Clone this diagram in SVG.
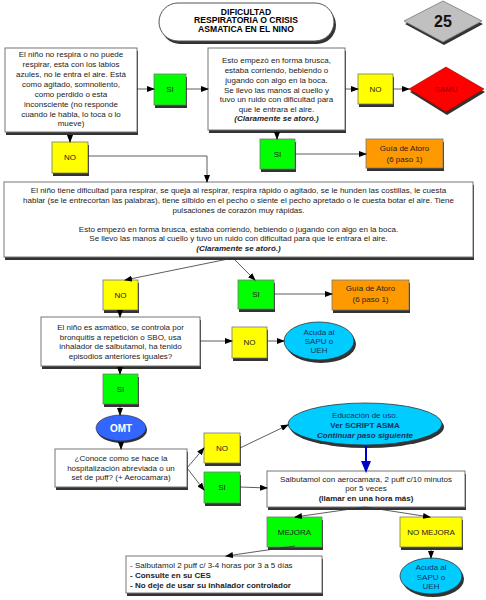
<svg xmlns="http://www.w3.org/2000/svg" width="486" height="600" viewBox="0 0 486 600">
<defs>
<marker id="ah" markerWidth="8" markerHeight="6" refX="7" refY="3" orient="auto" markerUnits="userSpaceOnUse">
<path d="M0,0 L8,3 L0,6 Z" fill="#000"/>
</marker>
<marker id="ahb" markerWidth="12" markerHeight="10" refX="10" refY="5" orient="auto" markerUnits="userSpaceOnUse">
<path d="M0,0 L12,5 L0,10 Z" fill="#0000cc"/>
</marker>
<style>
text{font-family:"Liberation Sans",Arial,sans-serif;font-size:8px;fill:#222;text-anchor:middle}
.b{font-weight:bold}
.bi{font-weight:bold;font-style:italic}
.t{font-weight:bold;font-size:8.6px;fill:#000}
.sh{fill:#333}
.box{fill:#fff;stroke:#777;stroke-width:1}
.g{fill:#00ff00;stroke:#777;stroke-width:0.8}
.y{fill:#ffff00;stroke:#777;stroke-width:0.8}
.o{fill:#ff9900;stroke:#777;stroke-width:0.8}
.c{fill:#00ccff;stroke:#333;stroke-width:0.8}
.el text{fill:#1a3060}
.conn line,.conn polyline{stroke:#333;stroke-width:0.8;fill:none;marker-end:url(#ah)}
</style>
</defs>
<rect width="486" height="600" fill="#fff"/>

<g id="title">
<rect x="161" y="6" width="175" height="38" rx="19" class="sh"/>
<rect x="159" y="3" width="175" height="38" rx="19" fill="#fff" stroke="#555" stroke-width="1"/>
<text x="246" y="14.5" class="t">DIFICULTAD</text>
<text x="246" y="23" class="t">RESPIRATORIA O CRISIS</text>
<text x="246" y="31.5" class="t">ASMATICA EN EL NINO</text>
</g>

<g id="page25">
<polygon points="444,4 483,24 444,45 405,24" class="sh"/>
<polygon points="443,1 482,21 443,42 404,21" fill="#c0c0c0" stroke="#777" stroke-width="0.8"/>
<text x="443" y="27" class="b" style="font-size:16px;fill:#111">25</text>
</g>

<g id="box1">
<rect x="6" y="51" width="132" height="84" class="sh"/>
<rect x="5" y="48" width="132" height="84" class="box"/>
<text x="71" y="57">El niño no respira o no puede</text>
<text x="71" y="67">respirar, esta con los labios</text>
<text x="71" y="77">azules, no le entra el aire. Está</text>
<text x="71" y="87">como agitado, somnoliento,</text>
<text x="71" y="96.5">como perdido o esta</text>
<text x="71" y="106.5">inconsciente (no responde</text>
<text x="71" y="116.5">cuando le habla, lo toca o lo</text>
<text x="71" y="126">mueve)</text>
</g>

<g id="si1">
<rect x="155" y="77" width="32" height="31" class="sh"/>
<rect x="154" y="74" width="32" height="31" class="g"/>
<text x="170" y="92">SI</text>
</g>

<g id="box2">
<rect x="209" y="51" width="137" height="82" class="sh"/>
<rect x="208" y="48" width="137" height="82" class="box"/>
<text x="276.5" y="63">Esto empezó en forma brusca,</text>
<text x="276.5" y="73">estaba corriendo, bebiendo o</text>
<text x="276.5" y="83">jugando con algo en la boca.</text>
<text x="276.5" y="92.5">Se llevo las manos al cuello y</text>
<text x="276.5" y="102">tuvo un ruido con dificultad para</text>
<text x="276.5" y="111.5">que le entrara el aire.</text>
<text x="276.5" y="121" class="bi">(Claramente se atoró.)</text>
</g>

<g id="no1">
<rect x="359" y="77" width="35" height="30" class="sh"/>
<rect x="358" y="74" width="35" height="30" class="y"/>
<text x="375.5" y="92">NO</text>
</g>

<g id="samu">
<polygon points="447,70 485,92 447,115 410,92" class="sh"/>
<polygon points="446,67 484,89 446,112 409,89" fill="#ff0000" stroke="#900" stroke-width="0.6"/>
<text x="446" y="92" style="fill:#9a0000">SAMU</text>
</g>

<g id="si2">
<rect x="261" y="142" width="35" height="30" class="sh"/>
<rect x="260" y="139" width="35" height="30" class="g"/>
<text x="277.5" y="157">SI</text>
</g>

<g id="atoro1">
<rect x="367" y="142" width="77" height="29" class="sh"/>
<rect x="366" y="139" width="77" height="29" class="o"/>
<text x="404.5" y="151">Guía de Atoro</text>
<text x="404.5" y="162">(6 paso 1)</text>
</g>

<g id="no2">
<rect x="53" y="145" width="36" height="31" class="sh"/>
<rect x="52" y="142" width="36" height="31" class="y"/>
<text x="70" y="160">NO</text>
</g>

<g id="bigbox">
<rect x="5" y="185" width="469" height="75" class="sh"/>
<rect x="4" y="182" width="469" height="75" class="box"/>
<text x="238.5" y="193">El niño tiene dificultad para respirar, se queja al respirar, respira rápido o agitado, se le hunden las costillas, le cuesta</text>
<text x="238.5" y="203">hablar (se le entrecortan las palabras), tiene silbido en el pecho o siente el pecho apretado o le cuesta botar el aire. Tiene</text>
<text x="238.5" y="212.5">pulsaciones de corazón muy rápidas.</text>
<text x="238.5" y="231.5">Esto empezó en forma brusca, estaba corriendo, bebiendo o jugando con algo en la boca.</text>
<text x="238.5" y="241">Se llevo las manos al cuello y tuvo un ruido con dificultad para que le entrara el aire.</text>
<text x="238.5" y="250.5" class="bi">(Claramente se atoró.)</text>
</g>

<g id="no3">
<rect x="104" y="283" width="35" height="30" class="sh"/>
<rect x="103" y="280" width="35" height="30" class="y"/>
<text x="120.5" y="298">NO</text>
</g>

<g id="si3">
<rect x="239" y="283" width="36" height="29" class="sh"/>
<rect x="238" y="280" width="36" height="29" class="g"/>
<text x="256" y="297">SI</text>
</g>

<g id="atoro2">
<rect x="333" y="283" width="77" height="30" class="sh"/>
<rect x="332" y="280" width="77" height="30" class="o"/>
<text x="370.5" y="291">Guía de Atoro</text>
<text x="370.5" y="301.5">(6 paso 1)</text>
</g>

<g id="asma">
<rect x="42" y="320" width="159" height="49" class="sh"/>
<rect x="41" y="317" width="159" height="49" class="box"/>
<text x="120.5" y="330">El niño es asmático, se controla por</text>
<text x="120.5" y="339.5">bronquitis a repetición o SBO, usa</text>
<text x="120.5" y="349">inhalador de salbutamol, ha tenido</text>
<text x="120.5" y="358.5">episodios anteriores iguales?</text>
</g>

<g id="no4">
<rect x="233" y="330" width="35" height="31" class="sh"/>
<rect x="232" y="327" width="35" height="31" class="y"/>
<text x="249.5" y="345">NO</text>
</g>

<g id="sapu1" class="el">
<ellipse cx="321" cy="344" rx="35" ry="19" class="sh"/>
<ellipse cx="319" cy="341" rx="35" ry="19" class="c"/>
<text x="319" y="335">Acuda al</text>
<text x="319" y="344">SAPU o</text>
<text x="319" y="353">UEH</text>
</g>

<g id="si4">
<rect x="104" y="377" width="35" height="30" class="sh"/>
<rect x="103" y="374" width="35" height="30" class="g"/>
<text x="120.5" y="392">SI</text>
</g>

<g id="omt">
<ellipse cx="122" cy="430" rx="25" ry="13" class="sh"/>
<ellipse cx="121" cy="428" rx="25" ry="13" fill="#3366ff" stroke="#223" stroke-width="0.6"/>
<text x="121" y="432" class="b" style="font-size:10px;fill:#fff">OMT</text>
</g>

<g id="conoce">
<rect x="56" y="452" width="132" height="38" class="sh"/>
<rect x="55" y="449" width="132" height="38" class="box"/>
<text x="121" y="461">¿Conoce como se hace la</text>
<text x="121" y="470.5">hospitalización abreviada o un</text>
<text x="121" y="480">set de puff? (+ Aerocamara)</text>
</g>

<g id="no5">
<rect x="205" y="436" width="36" height="30" class="sh"/>
<rect x="204" y="433" width="36" height="30" class="y"/>
<text x="222" y="451">NO</text>
</g>

<g id="si5">
<rect x="205" y="475" width="36" height="31" class="sh"/>
<rect x="204" y="472" width="36" height="31" class="g"/>
<text x="222" y="490">SI</text>
</g>

<g id="educacion" class="el">
<ellipse cx="367" cy="427" rx="77" ry="21" class="sh"/>
<ellipse cx="365" cy="424" rx="77" ry="21" class="c"/>
<text x="365" y="418">Educación de uso.</text>
<text x="365" y="428" class="b">Ver SCRIPT ASMA</text>
<text x="365" y="437.5" class="bi">Continuar paso siguiente</text>
</g>

<g id="salbutamol">
<rect x="268" y="474" width="198" height="36" class="sh"/>
<rect x="267" y="471" width="198" height="36" class="box"/>
<text x="366" y="481.5">Salbutamol con aerocamara, 2 puff c/10 minutos</text>
<text x="366" y="491">por 5 veces</text>
<text x="366" y="500.5" class="b">(llamar en una hora más)</text>
</g>

<g id="mejora">
<rect x="268" y="520" width="55" height="30" class="sh"/>
<rect x="267" y="517" width="55" height="30" class="g"/>
<text x="294.5" y="535">MEJORA</text>
</g>

<g id="nomejora">
<rect x="401" y="520" width="62" height="30" class="sh"/>
<rect x="400" y="517" width="62" height="30" class="y"/>
<text x="431" y="535">NO MEJORA</text>
</g>

<g id="sapu2" class="el">
<ellipse cx="433" cy="579" rx="31" ry="18" class="sh"/>
<ellipse cx="431" cy="576" rx="31" ry="18" class="c"/>
<text x="431" y="570">Acuda al</text>
<text x="431" y="580">SAPU o</text>
<text x="431" y="589">UEH</text>
</g>

<g id="final">
<rect x="127" y="559" width="196" height="37" class="sh"/>
<rect x="126" y="556" width="196" height="37" class="box"/>
<text x="130" y="568" style="text-anchor:start">- Salbutamol 2 puff c/ 3-4 horas por 3 a 5 días</text>
<text x="130" y="578" class="b" style="text-anchor:start">- Consulte en su CES</text>
<text x="130" y="587.5" class="b" style="text-anchor:start">- No deje de usar su inhalador controlador</text>
</g>

<g id="connectors" class="conn">
<line x1="137" y1="89" x2="154" y2="89"/>
<line x1="186" y1="89" x2="208" y2="89"/>
<line x1="345" y1="89" x2="358" y2="89"/>
<line x1="393" y1="89" x2="409" y2="89"/>
<line x1="277" y1="130" x2="277" y2="139"/>
<line x1="295" y1="154" x2="366" y2="154"/>
<line x1="70" y1="132" x2="70" y2="142"/>
<polyline points="88,156 207,156 207,182"/>
<line x1="233" y1="258" x2="125" y2="280"/>
<line x1="233" y1="258" x2="255" y2="280"/>
<line x1="274" y1="294" x2="332" y2="294"/>
<line x1="120" y1="310" x2="120" y2="317"/>
<line x1="200" y1="341" x2="232" y2="341"/>
<line x1="267" y1="341" x2="284" y2="341"/>
<line x1="120" y1="366" x2="120" y2="374"/>
<line x1="120" y1="404" x2="120" y2="415"/>
<line x1="121" y1="441" x2="121" y2="449"/>
<line x1="187" y1="468" x2="204" y2="448"/>
<line x1="187" y1="468" x2="204" y2="490"/>
<line x1="240" y1="448" x2="288" y2="425"/>
<line x1="240" y1="487" x2="267" y2="488"/>
<line x1="366" y1="446" x2="366" y2="471" style="stroke:#0000cc;stroke-width:2;marker-end:url(#ahb)"/>
<line x1="365" y1="507" x2="295" y2="517"/>
<line x1="365" y1="507" x2="430" y2="517"/>
<line x1="431" y1="547" x2="431" y2="558"/>
<line x1="295" y1="546" x2="226" y2="556"/>
</g>
</svg>
